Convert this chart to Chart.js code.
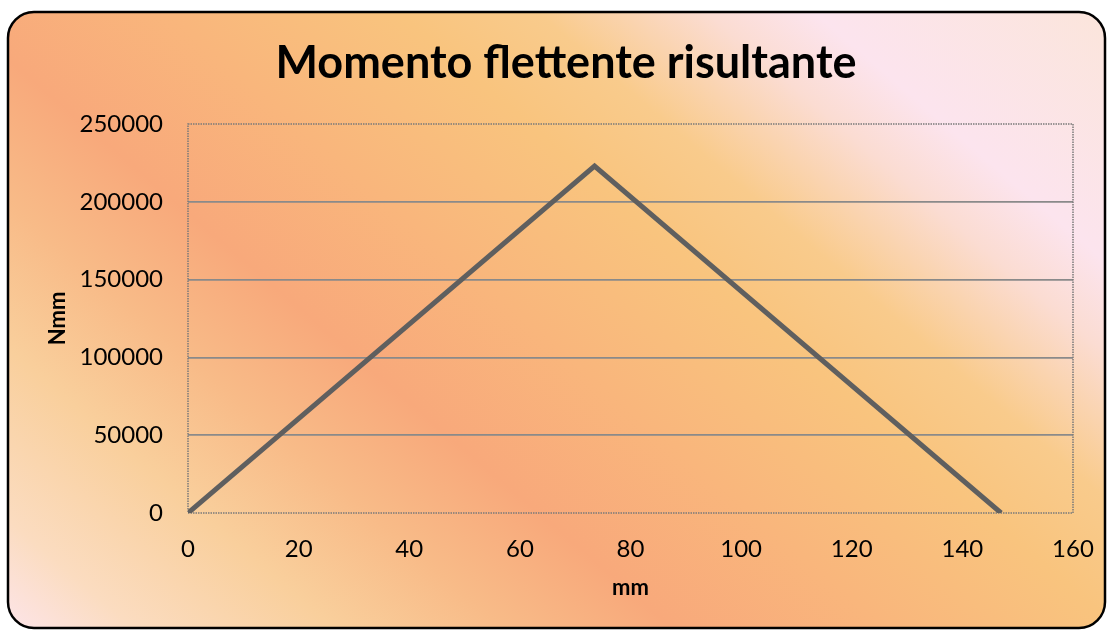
<!DOCTYPE html>
<html>
<head>
<meta charset="utf-8">
<script src="https://cdn.jsdelivr.net/npm/chart.js@4/dist/chart.umd.min.js"></script>
<style>
  html, body { margin: 0; padding: 0; background: #ffffff; }
  #wrap { width: 1110px; height: 630px; }
</style>
</head>
<body>
<div id="wrap"><canvas id="c" width="1110" height="630"></canvas></div>
<script>
// Resulting bending moment along the shaft
const positionsMm = [0, 73.5, 147];
const momentNmm = [0, 223000, 0];
const xTickStep = 20;
const yTickStep = 50000;

const chartTitle = 'Momento flettente risultante';
const xTitle = 'mm';
const yTitle = 'Nmm';

const FONT = 'Lato, "Open Sans", sans-serif';

// Rounded, gradient-filled card behind the whole chart
const cardBackground = {
  id: 'cardBackground',
  beforeDraw(chart) {
    const ctx = chart.ctx;
    const x0 = 8, y0 = 12, x1 = 1105, y1 = 628, r = 26;
    ctx.save();
    ctx.beginPath();
    ctx.moveTo(x0 + r, y0);
    ctx.lineTo(x1 - r, y0);
    ctx.arcTo(x1, y0, x1, y0 + r, r);
    ctx.lineTo(x1, y1 - r);
    ctx.arcTo(x1, y1, x1 - r, y1, r);
    ctx.lineTo(x0 + r, y1);
    ctx.arcTo(x0, y1, x0, y1 - r, r);
    ctx.lineTo(x0, y0 + r);
    ctx.arcTo(x0, y0, x0 + r, y0, r);
    ctx.closePath();
    // gradient direction (0.65, -0.76)
    const ux = 0.65, uy = -0.76;
    const s0 = -480, s1 = 720;
    const g = ctx.createLinearGradient(ux * s0, uy * s0, ux * s1, uy * s1);
    const stop = (s, c) => g.addColorStop((s - s0) / (s1 - s0), c);
    stop(-480, '#fde5ec');
    stop(-390, '#fbdcc0');
    stop(-260, '#f9cf9c');
    stop(-150, '#f8bb88');
    stop(-40, '#f8a97b');
    stop(100, '#f9b67c');
    stop(250, '#f9c47e');
    stop(340, '#f9cb8c');
    stop(450, '#fbdcd2');
    stop(520, '#fce4ee');
    stop(720, '#fbe5da');
    ctx.fillStyle = g;
    ctx.fill();
    ctx.lineWidth = 2.5;
    ctx.strokeStyle = '#000000';
    ctx.stroke();
    ctx.restore();
  }
};

// Dotted frame around the plot area
const plotFrame = {
  id: 'plotFrame',
  beforeDatasetsDraw(chart) {
    const {ctx, chartArea: a} = chart;
    ctx.save();
    ctx.strokeStyle = '#7a7a7a';
    ctx.lineWidth = 1.5;
    ctx.setLineDash([1.5, 1]);
    ctx.strokeRect(a.left, a.top, a.right - a.left, a.bottom - a.top);
    ctx.restore();
  }
};

const points = positionsMm.map((x, i) => ({ x, y: momentNmm[i] }));

new Chart(document.getElementById('c'), {
  type: 'line',
  data: {
    datasets: [{
      data: points,
      borderColor: '#5f5f5f',
      borderWidth: 5,
      pointRadius: 0,
      fill: false,
      tension: 0
    }]
  },
  options: {
    responsive: false,
    animation: false,
    layout: { padding: { top: 12, left: 30, right: 8, bottom: 0 } },
    plugins: {
      legend: { display: false },
      tooltip: { enabled: false },
      title: {
        display: true,
        text: chartTitle,
        color: '#000000',
        font: { family: FONT, size: 45, weight: 'bold', lineHeight: 1.2 },
        padding: { top: 24, bottom: 34 }
      }
    },
    scales: {
      x: {
        type: 'linear',
        min: 0,
        max: 160,
        ticks: {
          stepSize: xTickStep,
          color: '#000000',
          padding: 22,
          font: { family: FONT, size: 24 },
          maxRotation: 0
        },
        grid: { display: false, drawTicks: false },
        border: { display: false },
        title: {
          display: true,
          text: xTitle,
          color: '#000000',
          font: { family: FONT, size: 22, weight: 'bold', lineHeight: 1.2 },
          padding: { top: 4, bottom: 29 }
        },
        afterFit(scale) {
          scale.height = 117;
          scale.paddingRight = 37;
        }
      },
      y: {
        min: 0,
        max: 250000,
        ticks: {
          stepSize: yTickStep,
          color: '#000000',
          padding: 25,
          font: { family: FONT, size: 24 },
          callback: (v) => String(v)
        },
        grid: {
          drawTicks: false,
          lineWidth: 1.8,
          color: (ctx) => (ctx.tick && (ctx.tick.value === 0 || ctx.tick.value === 250000)) ? 'rgba(0,0,0,0)' : '#8a8a8a'
        },
        border: { display: false },
        title: {
          display: true,
          text: yTitle,
          color: '#000000',
          font: { family: FONT, size: 22, weight: 'bold', lineHeight: 1.2 },
          padding: { top: 15, bottom: 4 }
        },
        afterFit(scale) {
          scale.width = 158;
        }
      }
    }
  },
  plugins: [cardBackground, plotFrame]
});
</script>
</body>
</html>
